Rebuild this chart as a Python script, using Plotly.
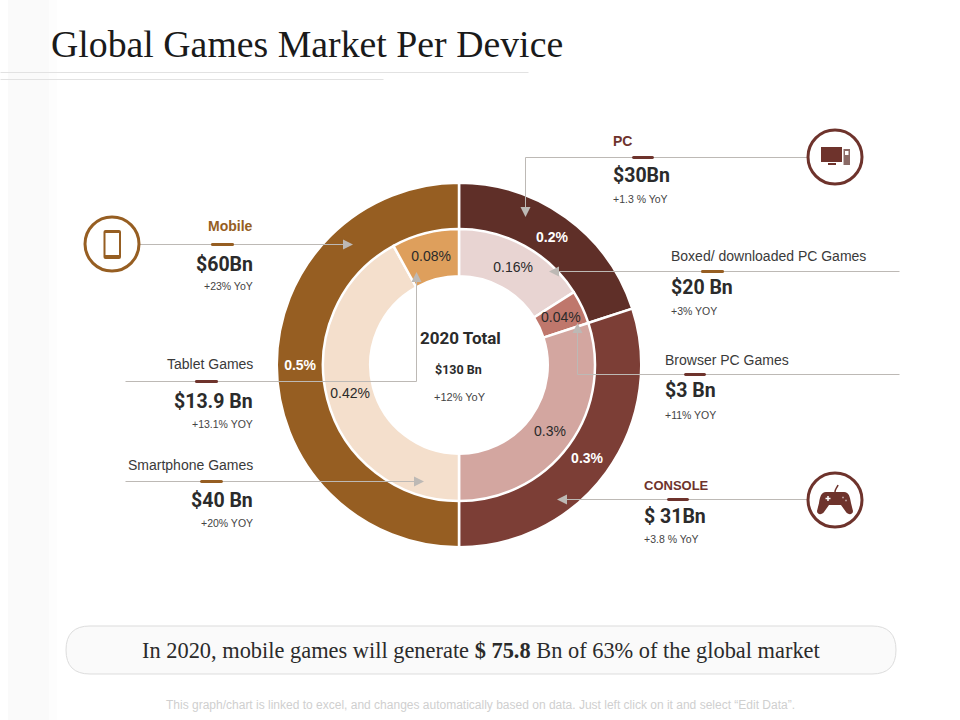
import plotly.graph_objects as go

# dados dos dois aneis
outer_labels = ['PC', 'Console', 'Mobile']
outer_values = [0.2, 0.3, 0.5]
outer_colors = ['#5F2F28', '#7C3E36', '#965E22']

inner_labels = ['Boxed/ downloaded PC Games', 'Browser PC Games', 'Console', 'Smartphone Games', 'Tablet Games']
inner_values = [0.16, 0.04, 0.3, 0.42, 0.08]
inner_colors = ['#E8D4D2', '#BF776C', '#D3A6A0', '#F4DFCC', '#DE9F5C']

W, H = 960, 720
CX, CY = 459, 365
SANS = 'Liberation Sans'
COND = 'Roboto'
SERIF = 'Liberation Serif'
BROWN = '#965E22'
RED = '#6E332C'
GRAY = '#BDB9B5'


def fx(x):
    return x / W


def fy(y):
    return 1 - y / H


def domain(r):
    return dict(x=[fx(CX - r), fx(CX + r)], y=[fy(CY + r), fy(CY - r)])


fig = go.Figure()
# raios um pouco maiores porque o contorno branco come a borda
fig.add_trace(go.Pie(labels=outer_labels, values=outer_values, domain=domain(182.25), hole=135 / 182.25,
                     sort=False, direction='clockwise', rotation=0, texttemplate='%{value}%',
                     textposition='inside', insidetextorientation='horizontal',
                     textfont=dict(family=SANS, size=14, color='white', weight='bold'),
                     marker=dict(colors=outer_colors, line=dict(color='white', width=2.5))))
# o rotulo de 0.04% nao cabe na fatia, vai como anotacao mais abaixo
fig.add_trace(go.Pie(labels=inner_labels, values=inner_values, domain=domain(136), hole=88.75 / 136,
                     sort=False, direction='clockwise', rotation=0, texttemplate='%{value}%',
                     textposition=['inside', 'none', 'inside', 'inside', 'inside'],
                     insidetextorientation='horizontal',
                     textfont=dict(family=SANS, size=14, color='#2A2A2A'),
                     marker=dict(colors=inner_colors, line=dict(color='white', width=2.5))))

shapes = []


def rect(x0, y0, x1, y1, color, layer='below'):
    shapes.append(dict(type='rect', xref='paper', yref='paper', x0=fx(x0), x1=fx(x1), y0=fy(y0), y1=fy(y1),
                       fillcolor=color, line=dict(width=0), layer=layer))


def line(x0, y0, x1, y1, color=GRAY, width=1):
    # meio pixel para a linha ficar fina
    shapes.append(dict(type='line', xref='paper', yref='paper', x0=fx(x0 + 0.5), x1=fx(x1 + 0.5), y0=fy(y0 + 0.5),
                       y1=fy(y1 + 0.5), line=dict(color=color, width=width)))


def path(points, fill=None, color=None, width=0):
    # pontos: lista de comandos, ex. ('M', x, y)
    s = ''
    for p in points:
        s += p[0]
        vals = p[1:]
        for i in range(0, len(vals), 2):
            s += f'{fx(vals[i]):.5f},{fy(vals[i + 1]):.5f} '
    shapes.append(dict(type='path', xref='paper', yref='paper', path=s.strip(), fillcolor=fill or 'rgba(0,0,0,0)',
                       line=dict(color=color or 'rgba(0,0,0,0)', width=width)))


def arrow(x, y, direction):
    s = 5
    t = 10
    if direction == 'right':
        pts = [('M', x, y), ('L', x - t, y - s), ('L', x - t, y + s), ('Z',)]
    elif direction == 'left':
        pts = [('M', x, y), ('L', x + t, y - s), ('L', x + t, y + s), ('Z',)]
    elif direction == 'down':
        pts = [('M', x, y), ('L', x - s, y - t), ('L', x + s, y - t), ('Z',)]
    else:
        pts = [('M', x, y), ('L', x - s, y + t), ('L', x + s, y + t), ('Z',)]
    path(pts, fill=GRAY)


def circle(cx, cy, r, color, width=3):
    shapes.append(dict(type='circle', xref='paper', yref='paper', x0=fx(cx - r), x1=fx(cx + r), y0=fy(cy + r),
                       y1=fy(cy - r), fillcolor='white', line=dict(color=color, width=width)))


def round_box(x0, y0, x1, y1, r, fill, color=None, width=0):
    path([('M', x0 + r, y0), ('L', x1 - r, y0), ('Q', x1, y0, x1, y0 + r), ('L', x1, y1 - r),
          ('Q', x1, y1, x1 - r, y1), ('L', x0 + r, y1), ('Q', x0, y1, x0, y1 - r), ('L', x0, y0 + r),
          ('Q', x0, y0, x0 + r, y0), ('Z',)], fill=fill, color=color, width=width)


# fundo e linhas do titulo
rect(8, 0, 49, 720, '#FAFAFA')
rect(49, 0, 57, 720, '#FDFDFD')
line(0, 72, 528, 72, '#E2E2E2', 1)
line(0, 79, 383, 79, '#E2E2E2', 1)

# conectores
line(139, 244, 345, 244)
arrow(353, 244.5, 'right')
line(125, 381, 416, 381)
line(416, 381, 416, 281)
arrow(416.5, 272, 'up')
line(125, 481, 415, 481)
arrow(424, 481.5, 'right')
line(808, 157, 525, 157)
line(525, 157, 525, 208)
arrow(525.5, 217, 'down')
line(899, 271, 558, 271)
arrow(549, 271.5, 'left')
line(899, 374, 577, 374)
line(577, 374, 577, 332)
arrow(577.5, 323, 'up')
line(808, 499, 566, 499)
arrow(557, 499.5, 'left')

# barrinhas
for x0, x1, y, c in [(211, 234, 244, BROWN), (195, 218, 381, RED), (200, 223, 481, BROWN), (632, 654, 157, RED),
                     (701, 724, 271, BROWN), (684, 706, 374, RED), (667, 689, 499, RED)]:
    round_box(x0, y - 1, x1, y + 2, 1.5, c)

# icones
circle(112, 244, 27, BROWN)
round_box(103.5, 230, 121, 259, 2, BROWN)
rect(105.5, 233, 119, 255, 'white', layer='above')
circle(835, 157, 27, RED)
rect(821, 147, 842, 162, RED, layer='above')
rect(843.5, 149, 850, 165, '#8A6A66', layer='above')
rect(845, 151, 848.5, 155, 'white', layer='above')
rect(828, 163, 836, 165, RED, layer='above')
circle(835, 500, 27, RED)
path([('M', 826, 492), ('L', 844, 492), ('C', 849, 492, 850, 497, 851, 503), ('L', 853, 511),
      ('C', 853, 515, 848, 515, 846, 512), ('L', 841, 505), ('L', 829, 505), ('L', 824, 512),
      ('C', 822, 515, 817, 515, 817, 511), ('L', 819, 503), ('C', 820, 497, 821, 492, 826, 492), ('Z',)], fill=RED)
path([('M', 835, 492), ('C', 835, 489, 837, 488, 838, 485)], color=RED, width=1.5)
line(825, 498, 830, 498, 'white', 1.5)
line(827.5, 495.5, 827.5, 500.5, 'white', 1.5)
line(842, 497, 843, 497, 'white', 1.5)
line(845, 500, 846, 500, 'white', 1.5)

# caixa de baixo
round_box(66, 626, 896, 674, 24, '#FAFAFA', '#DDDDDD', 1)

fig.update_layout(shapes=shapes)

notes = []


def text(x, y, s, size, color='#2B2B2B', family=SANS, anchor='left', bold=False):
    if bold:
        s = f'<b>{s}</b>'
    # anotacao tem 2px de folga em volta do texto
    if anchor == 'left':
        x -= 2
    elif anchor == 'right':
        x += 2
    notes.append(dict(xref='paper', yref='paper', x=fx(x), y=fy(y), text=s, showarrow=False, xanchor=anchor,
                      yanchor='middle', font=dict(size=size, color=color, family=family)))


text(51, 44, 'Global Games Market Per Device', 37.8, '#1A1A1A', SERIF)

# lado esquerdo
text(253, 226, 'Mobile', 14, BROWN, SANS, 'right', True)
text(253, 264, '$60Bn', 19.5, '#2B2B2B', COND, 'right', True)
text(253, 286, '+23% YoY', 10.5, '#444444', SANS, 'right')
text(253, 364, 'Tablet Games', 14, '#3A3A3A', SANS, 'right')
text(253, 401, '$13.9 Bn', 19.5, '#2B2B2B', COND, 'right', True)
text(253, 424, '+13.1% YOY', 10.5, '#444444', SANS, 'right')
text(253, 465, 'Smartphone Games', 14, '#3A3A3A', SANS, 'right')
text(253, 500, '$40 Bn', 19.5, '#2B2B2B', COND, 'right', True)
text(253, 523, '+20% YOY', 10.5, '#444444', SANS, 'right')

# lado direito
text(613, 141, 'PC', 14, RED, SANS, bold=True)
text(613, 175, '$30Bn', 19.5, '#2B2B2B', COND, bold=True)
text(613, 199, '+1.3 % YoY', 10.5, '#444444')
text(671, 256, 'Boxed/ downloaded PC Games', 14, '#3A3A3A', SANS)
text(671, 287, '$20 Bn', 19.5, '#2B2B2B', COND, bold=True)
text(671, 311, '+3% YOY', 10.5, '#444444')
text(665, 360, 'Browser PC Games', 14, '#3A3A3A', SANS)
text(665, 391, '$3 Bn', 19.5, '#2B2B2B', COND, bold=True)
text(665, 415, '+11% YOY', 10.5, '#444444')
text(644, 485, 'CONSOLE', 13, RED, SANS, bold=True)
text(644, 516, '$ 31Bn', 19.5, '#2B2B2B', COND, bold=True)
text(644, 539, '+3.8 % YoY', 10.5, '#444444')

# centro
text(460, 338, '2020 Total', 17, '#2B2B2B', COND, 'center', True)
text(458, 370, '$130 Bn', 12.5, '#2B2B2B', COND, 'center', True)
text(460, 397, '+12% YoY', 11, '#444444', SANS, 'center')
text(561, 317, f'{inner_values[1]}%', 14, '#2A2A2A', SANS, 'center')

# rodape
text(481, 650, 'In 2020, mobile games will generate <b>$ 75.8</b> Bn of 63% of the global market', 22.4, '#2B2B2B',
     SERIF, 'center')
text(480, 705, 'This graph/chart is linked to excel, and changes automatically based on data. Just left click on it and select “Edit Data”.',
     12, '#CFCFCF', SANS, 'center')

fig.update_layout(annotations=notes, width=W, height=H, margin=dict(l=0, r=0, t=0, b=0), showlegend=False,
                  paper_bgcolor='white', plot_bgcolor='white')

# tira a margem padrao do body e a barra de ferramentas
fig.write_html("out.html", config={'displayModeBar': False}, post_script="document.body.style.margin='0';")
